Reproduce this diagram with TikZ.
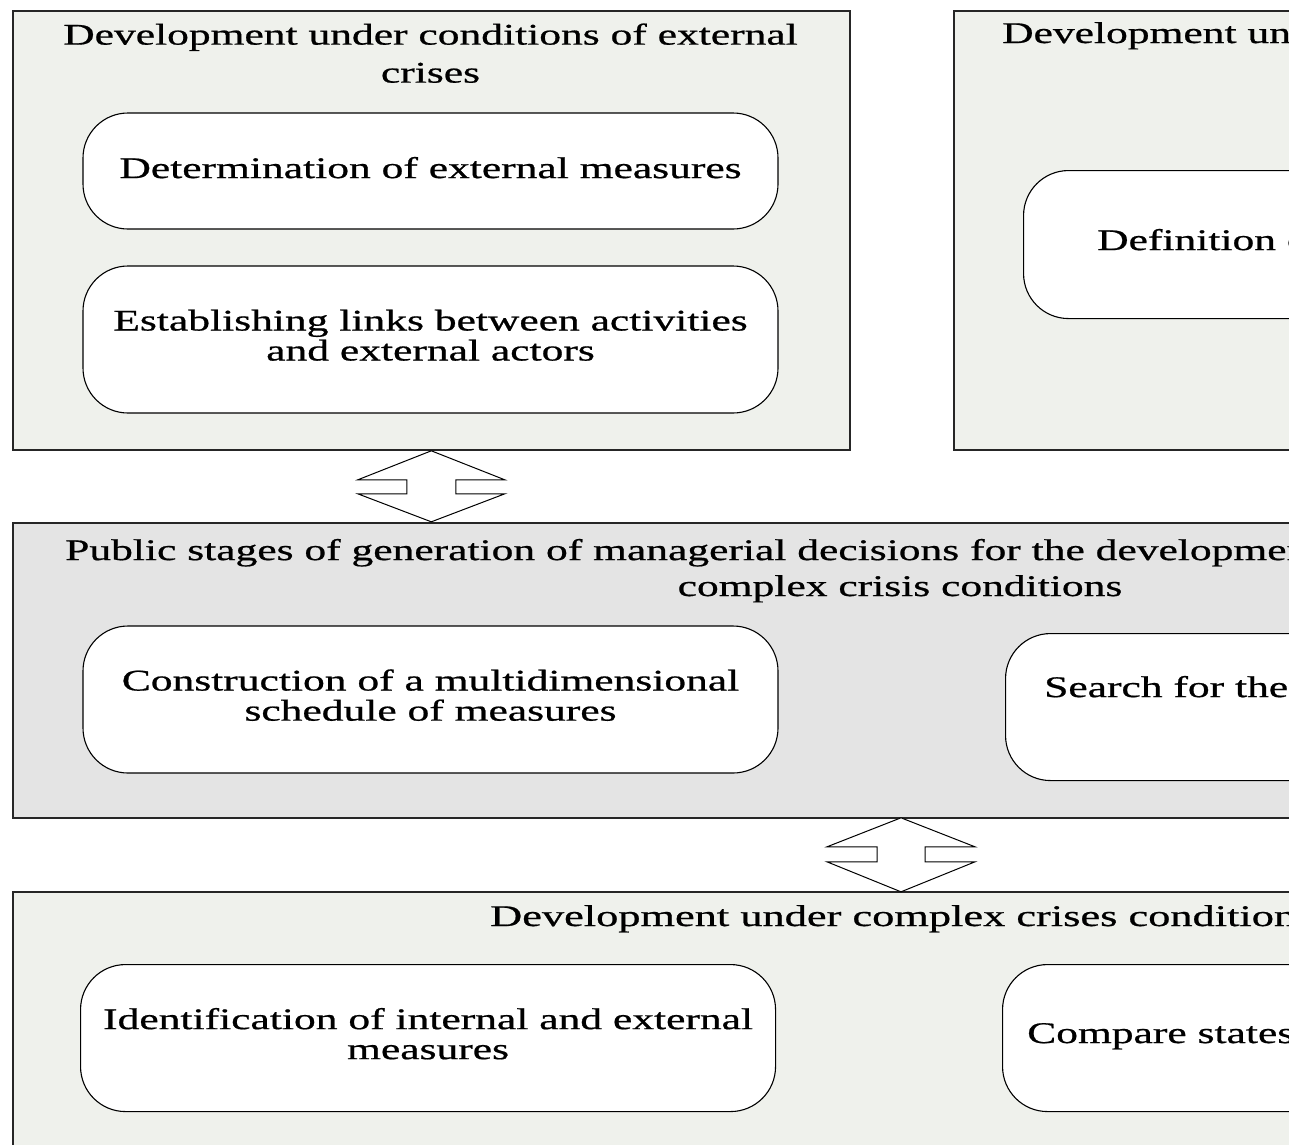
\documentclass[tikz,border=0pt]{standalone}
\usepackage{fontspec}
\setmainfont{Liberation Serif}[FakeBold=0.6]
\usepackage{graphicx}
\usetikzlibrary{calc}
\definecolor{pale}{RGB}{239,241,236}
\definecolor{midgray}{RGB}{228,228,228}
\newcommand\wt[2]{\scalebox{1.45}[1]{\fontsize{30}{#1}\selectfont\begin{tabular}{@{}c@{}}#2\end{tabular}}}
\tikzset{
  frame/.style={draw=black!85, line width=1.6pt, rectangle, inner sep=0pt, anchor=north west},
  rbox/.style={draw=black, line width=1.1pt, fill=white, rectangle, rounded corners=45pt, inner sep=0pt},
  txt/.style={inner sep=0pt, text=black},
  updown/.style={draw=black, line width=1pt, fill=white, line join=miter},
}
\begin{document}
\begin{tikzpicture}[x=1pt,y=-1pt]
\useasboundingbox (0,0) rectangle (1289,1144);
\clip (0,0) rectangle (1289,1144);
\fill[white] (0,0) rectangle (1289,1144);
% top-left frame
\node[frame, fill=pale, minimum width=837pt, minimum height=439pt] (tl) at (12,10) {};
\node[txt] (tlt) at (430.5,56) {\wt{38pt}{Development under conditions of external\\crises}};
\node[rbox, minimum width=695pt, minimum height=116pt] (b1) at (430.5,171) {};
\node[txt] at ($(b1.center)+(0,1)$) {\wt{30pt}{Determination of external measures}};
\node[rbox, minimum width=695pt, minimum height=147pt] (b2) at (430.5,339.5) {};
\node[txt] at ($(b2.center)+(0,0)$) {\wt{30pt}{Establishing links between activities\\and external actors}};
% top-right frame
\node[frame, fill=pale, minimum width=500pt, minimum height=439pt] (tr) at (953,10) {};
\node[txt, anchor=west] (trt) at (1002,37) {\wt{30pt}{Development under}};
\node[rbox, anchor=north west, minimum width=400pt, minimum height=148pt] (b3) at (1023,170) {};
\node[txt, anchor=west] at (1097,244) {\wt{30pt}{Definition of}};
% middle frame
\node[frame, fill=midgray, minimum width=1400pt, minimum height=295pt] (mid) at (12,522) {};
\node[txt, anchor=west] (midt1) at (65,554) {\wt{30pt}{Public stages of generation of managerial decisions for the development}};
\node[txt] (midt2) at (900,590) {\wt{30pt}{complex crisis conditions}};
\node[rbox, minimum width=695pt, minimum height=147pt] (b4) at (430.5,699.5) {};
\node[txt] at ($(b4.center)+(0,0)$) {\wt{30pt}{Construction of a multidimensional\\schedule of measures}};
\node[rbox, anchor=north west, minimum width=400pt, minimum height=147pt] (b5) at (1005,633) {};
\node[txt, anchor=west] at (1044,691) {\wt{30pt}{Search for the}};
% bottom frame
\node[frame, fill=pale, minimum width=1400pt, minimum height=300pt] (bot) at (12,891) {};
\node[txt, anchor=west] (bott) at (490,920) {\scalebox{1.02}[1]{\wt{30pt}{Development under complex crises conditions}}};
\node[rbox, anchor=north west, minimum width=695pt, minimum height=147pt] (b6) at (80,964) {};
\node[txt] at ($(b6.center)+(0,0)$) {\wt{30pt}{Identification of internal and external\\measures}};
\node[rbox, anchor=north west, minimum width=400pt, minimum height=147pt] (b7) at (1002,964) {};
\node[txt, anchor=west] at (1027,1037) {\wt{30pt}{Compare states}};
% double arrows
\coordinate (a1) at ($(tl.south)!0.5!(tl.south |- mid.north)$);
\begin{scope}[shift={(a1)}]
\draw[updown] (-73.5,-6.5) -- (0,-35.5) -- (73.5,-6.5) -- (24.5,-6.5) -- (24.5,7.5) -- (73.5,7.5)
  -- (0,35.5) -- (-73.5,7.5) -- (-24.5,7.5) -- (-24.5,-6.5) -- cycle;
\end{scope}
\coordinate (a2x) at (901,0);
\coordinate (a2) at ($(a2x |- mid.south)!0.5!(a2x |- bot.north)$);
\begin{scope}[shift={(a2)}]
\draw[updown] (-74,-8) -- (0,-37) -- (74,-8) -- (24,-8) -- (24,7) -- (74,7)
  -- (0,37) -- (-74,7) -- (-24,7) -- (-24,-8) -- cycle;
\end{scope}
\end{tikzpicture}
\end{document}
